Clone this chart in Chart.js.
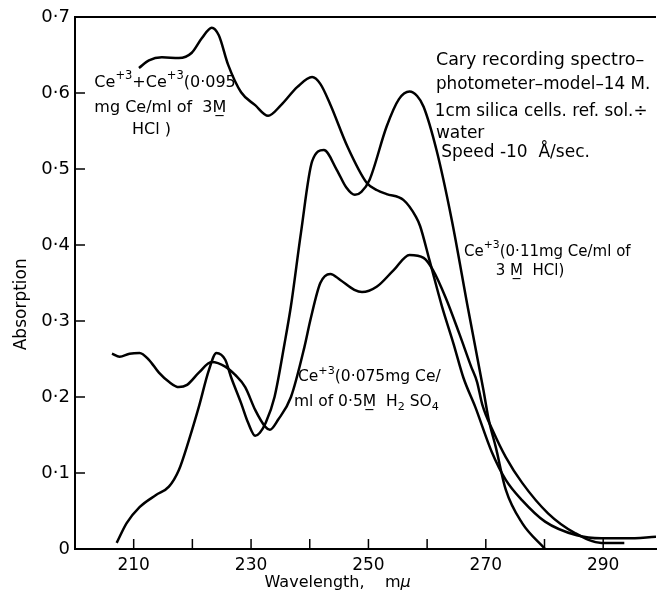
<!DOCTYPE html>
<html>
<head>
<meta charset="utf-8">
<title>Cerium absorption spectra</title>
<script src="https://cdn.jsdelivr.net/npm/chart.js@4.4.1/dist/chart.umd.min.js"></script>
<style>
  html, body { margin: 0; padding: 0; background: #fff; }
  #wrap { width: 662px; height: 605px; }
</style>
</head>
<body>
<div id="wrap"><canvas id="spectra" width="662" height="605"></canvas></div>
<script>
// Curva superior: Ce+4 + Ce+3 (0.095 mg Ce/ml) em HCl 3M
const mixWl = [210.9, 212.6, 214.8, 217.7, 219.9, 221.6, 223.3, 224.5, 226.1, 228.3, 230.7, 232.9,
  235.1, 237.9, 240.4, 241.8, 243.5, 246.4, 249.7, 251.5, 253.1, 256.0, 258.1, 258.8, 260.4, 262.5,
  264.5, 266.2, 268.2, 271.0, 273.4, 276.2, 280.1, 285.5, 289.7, 294.0, 299.0];
const mixAbs = [0.633, 0.643, 0.647, 0.646, 0.653, 0.672, 0.686, 0.676, 0.637, 0.601, 0.584, 0.570,
  0.584, 0.608, 0.621, 0.612, 0.585, 0.530, 0.482, 0.472, 0.467, 0.459, 0.437, 0.425, 0.380, 0.320,
  0.270, 0.225, 0.187, 0.128, 0.091, 0.064, 0.036, 0.018, 0.014, 0.014, 0.016];

// Ce+3 (0.11 mg Ce/ml) em HCl 3M
const hclWl = [207.1, 208.8, 211.0, 213.8, 216.0, 217.7, 219.4, 221.1, 222.8, 224.1, 225.6, 226.6,
  228.3, 229.5, 230.7, 231.5, 232.5, 234.0, 235.7, 236.8, 238.5, 240.4, 242.4, 244.6, 246.2, 247.7,
  248.8, 250.2, 253.1, 255.2, 257.0, 258.3, 259.4, 261.6, 264.2, 267.0, 269.6, 270.5, 271.7, 273.4,
  276.2, 280.1];
const hclAbs = [0.008, 0.034, 0.055, 0.071, 0.082, 0.104, 0.143, 0.187, 0.235, 0.258, 0.249, 0.226,
  0.192, 0.166, 0.149, 0.153, 0.166, 0.200, 0.270, 0.320, 0.416, 0.510, 0.525, 0.499, 0.476, 0.466,
  0.470, 0.486, 0.556, 0.592, 0.602, 0.596, 0.582, 0.525, 0.433, 0.315, 0.209, 0.170, 0.134, 0.078,
  0.034, 0.000];

// Ce+3 (0.075 mg Ce/ml) em H2SO4 0.5M
const sulfWl = [206.3, 207.6, 209.3, 211.0, 212.6, 214.3, 216.0, 217.7, 219.1, 221.1, 223.3, 225.6,
  227.3, 229.0, 230.7, 232.4, 233.2, 234.6, 236.8, 239.1, 240.1, 241.8, 243.5, 245.2, 247.6, 248.9,
  251.4, 254.3, 257.0, 259.4, 261.0, 263.2, 265.5, 267.5, 268.5, 269.4, 271.3, 273.4, 276.2, 280.6,
  285.2, 289.7, 293.6];
const sulfAbs = [0.257, 0.253, 0.257, 0.258, 0.249, 0.232, 0.220, 0.213, 0.216, 0.232, 0.246, 0.240,
  0.229, 0.213, 0.183, 0.161, 0.157, 0.170, 0.200, 0.266, 0.301, 0.350, 0.362, 0.354, 0.341, 0.338,
  0.345, 0.367, 0.387, 0.383, 0.367, 0.330, 0.283, 0.240, 0.220, 0.190, 0.154, 0.121, 0.087, 0.047,
  0.021, 0.008, 0.008];

// Eixos
const xTickLabels = ['210', '230', '250', '270', '290'];
const xTickMarks = [210, 220, 230, 240, 250, 260, 270, 280, 290];
const yTickLabels = ['0', '0·1', '0·2', '0·3', '0·4', '0·5', '0·6', '0·7'];
const yTickMarks = [0.1, 0.2, 0.3, 0.4, 0.5, 0.6];

// Anotações (posição em unidades dos eixos); ^{..} = sobrescrito, _{..} = subscrito
const notes = [
  { text: 'Ce^{+3}+Ce^{+3}(0·095', wl: 203.3, abs: 0.614, size: 16 },
  { text: 'mg Ce/ml of  3M\u0332', wl: 203.3, abs: 0.580, size: 16 },
  { text: 'HCl )', wl: 209.7, abs: 0.551, size: 16 },
  { text: 'Cary recording spectro–', wl: 261.5, abs: 0.643, size: 17.5 },
  { text: 'photometer–model–14 M.', wl: 261.5, abs: 0.611, size: 16.8 },
  { text: '1cm silica cells. ref. sol.÷', wl: 261.3, abs: 0.575, size: 16.8 },
  { text: 'water', wl: 261.5, abs: 0.547, size: 17 },
  { text: 'Speed -10  Å/sec.', wl: 262.4, abs: 0.522, size: 17 },
  { text: 'Ce^{+3}(0·11mg Ce/ml of', wl: 266.3, abs: 0.391, size: 15 },
  { text: '3 M\u0332  HCl)', wl: 271.7, abs: 0.366, size: 15 },
  { text: 'Ce^{+3}(0·075mg Ce/', wl: 238.0, abs: 0.226, size: 15.5 },
  { text: 'ml of 0·5M\u0332  H_{2} SO_{4}', wl: 237.3, abs: 0.193, size: 15.5 }
];

function toPoints(wl, abs) {
  return wl.map((w, i) => ({ x: w, y: abs[i] }));
}

function curve(label, wl, abs) {
  return {
    label: label,
    data: toPoints(wl, abs),
    borderColor: '#000',
    borderWidth: 2.5,
    pointRadius: 0,
    cubicInterpolationMode: 'monotone',
    fill: false
  };
}

// escreve texto com sobrescritos/subscritos simples
function drawRich(ctx, text, x, y, size) {
  const parts = text.match(/\^\{[^}]*\}|_\{[^}]*\}|[^^_]+/g) || [];
  let cx = x;
  parts.forEach(p => {
    let s = size, dy = 0, t = p;
    if (p.startsWith('^{')) { s = size * 0.72; dy = -size * 0.42; t = p.slice(2, -1); }
    else if (p.startsWith('_{')) { s = size * 0.72; dy = size * 0.32; t = p.slice(2, -1); }
    ctx.font = s + 'px "DejaVu Sans"';
    ctx.fillText(t, cx, y + dy);
    cx += ctx.measureText(t).width;
  });
}

// Moldura superior, marcas internas, textos
const decorPlugin = {
  id: 'decor',
  afterDraw(chart) {
    const { ctx, chartArea } = chart;
    const x = chart.scales.x;
    const y = chart.scales.y;
    ctx.save();
    ctx.strokeStyle = '#000';
    ctx.lineWidth = 2;
    ctx.beginPath();
    ctx.moveTo(chartArea.left, chartArea.top);
    ctx.lineTo(chartArea.right, chartArea.top);
    ctx.stroke();

    ctx.lineWidth = 1.5;
    xTickMarks.forEach(v => {
      const px = x.getPixelForValue(v);
      ctx.beginPath();
      ctx.moveTo(px, chartArea.bottom);
      ctx.lineTo(px, chartArea.bottom - 10);
      ctx.stroke();
    });
    yTickMarks.forEach(v => {
      const py = y.getPixelForValue(v);
      ctx.beginPath();
      ctx.moveTo(chartArea.left, py);
      ctx.lineTo(chartArea.left + 10, py);
      ctx.stroke();
    });

    ctx.fillStyle = '#000';
    ctx.textAlign = 'left';
    ctx.textBaseline = 'middle';
    notes.forEach(n => {
      drawRich(ctx, n.text, x.getPixelForValue(n.wl), y.getPixelForValue(n.abs), n.size);
    });

    // títulos dos eixos
    ctx.font = '16px "DejaVu Sans"';
    ctx.fillText('Wavelength,    m', x.getPixelForValue(232.3), 583);
    const w = ctx.measureText('Wavelength,    m').width;
    ctx.font = 'italic 16px "DejaVu Sans"';
    ctx.fillText('μ', x.getPixelForValue(232.3) + w, 583);
    ctx.font = '17px "DejaVu Sans"';
    ctx.translate(22, y.getPixelForValue(0.322));
    ctx.rotate(-Math.PI / 2);
    ctx.textAlign = 'center';
    ctx.fillText('Absorption', 0, 0);
    ctx.restore();
  }
};

Chart.defaults.font.family = '"DejaVu Sans", sans-serif';
Chart.defaults.color = '#000';

new Chart(document.getElementById('spectra').getContext('2d'), {
  type: 'line',
  data: {
    datasets: [
      curve('Ce+4 + Ce+3 HCl', mixWl, mixAbs),
      curve('Ce+3 HCl', hclWl, hclAbs),
      curve('Ce+3 H2SO4', sulfWl, sulfAbs)
    ]
  },
  options: {
    responsive: false,
    animation: false,
    devicePixelRatio: 1,
    layout: { padding: { top: 17, right: 0, bottom: 0, left: 0 } },
    plugins: {
      legend: { display: false },
      tooltip: { enabled: false }
    },
    scales: {
      x: {
        type: 'linear',
        min: 200,
        max: 299,
        afterFit: scale => { scale.height = 56; },
        grid: { display: false, drawTicks: false },
        border: { display: true, color: '#000', width: 2 },
        ticks: {
          stepSize: 10,
          autoSkip: false,
          maxRotation: 0,
          padding: 6,
          font: { size: 17 },
          callback: value => xTickLabels.includes(String(value)) ? String(value) : ''
        }
      },
      y: {
        type: 'linear',
        min: 0,
        max: 0.7,
        afterFit: scale => { scale.width = 75; },
        grid: { display: false, drawTicks: false },
        border: { display: true, color: '#000', width: 2 },
        ticks: {
          stepSize: 0.1,
          padding: 5,
          font: { size: 18 },
          callback: value => yTickLabels[Math.round(value * 10)]
        }
      }
    }
  },
  plugins: [decorPlugin]
});
</script>
</body>
</html>
